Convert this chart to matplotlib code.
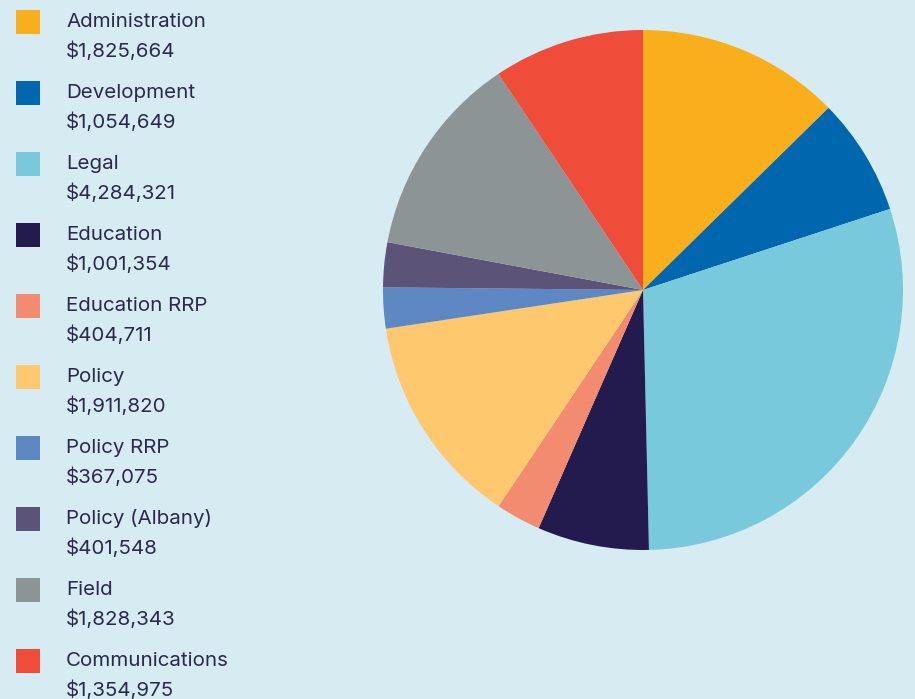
import matplotlib
matplotlib.use("Agg")
import matplotlib.pyplot as plt
from matplotlib.patches import Rectangle

categories = ["Administration", "Development", "Legal", "Education", "Education RRP",
              "Policy", "Policy RRP", "Policy (Albany)", "Field", "Communications"]
amounts = [1825664, 1054649, 4284321, 1001354, 404711,
           1911820, 367075, 401548, 1828343, 1354975]
colors = ["#f9ae1b", "#0066ad", "#79c9dc", "#231a4e", "#f28b70",
          "#fec86e", "#5e88c3", "#5c5378", "#8c9496", "#ef4c3a"]

bg = "#d6ecf2"
text_color = "#2b2a4c"
W, H = 915, 699

plt.rcParams["font.family"] = ["Inter", "DejaVu Sans"]

fig = plt.figure(figsize=(W / 100, H / 100), dpi=100, facecolor=bg)

# pie: center (643, 290) px, radius 260 px
cx, cy, r = 643, 290, 260
ax = fig.add_axes([(cx - r) / W, (H - cy - r) / H, 2 * r / W, 2 * r / H])
ax.set_facecolor(bg)
ax.pie(amounts, colors=colors, startangle=90, counterclock=False,
       wedgeprops=dict(linewidth=0))
ax.set_xlim(-1, 1)
ax.set_ylim(-1, 1)
ax.set_aspect("equal")
ax.axis("off")

# legend, drawn by hand
row_step = 71
for i, (name, amt) in enumerate(zip(categories, amounts)):
    top = 10 + i * row_step
    fig.add_artist(Rectangle((16 / W, 1 - (top + 24) / H), 24 / W, 24 / H,
                             transform=fig.transFigure, color=colors[i], lw=0))
    fig.text(66 / W, 1 - (top + 12) / H, name, fontsize=14.8, color=text_color,
             va="center", ha="left")
    fig.text(66 / W, 1 - (top + 41) / H, "\\$" + f"{amt:,}", fontsize=14.8,
             color=text_color, va="center", ha="left")

fig.savefig("out.png", dpi=100, facecolor=bg)
